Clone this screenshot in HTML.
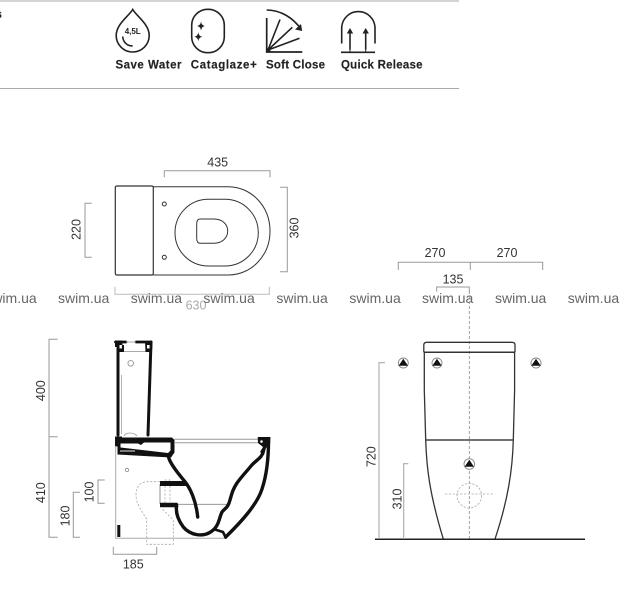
<!DOCTYPE html>
<html><head><meta charset="utf-8">
<style>
html,body{margin:0;padding:0;background:#fff;width:629px;height:600px;overflow:hidden}
svg{display:block;filter:blur(.3px)}
text{font-family:"Liberation Sans",sans-serif}
.d{font-size:12.5px;fill:#333;text-anchor:middle}
.w{font-size:14px;fill:#666}
.l{font-size:11.5px;font-weight:bold;fill:#222;stroke:#222;stroke-width:.15}
.g{fill:none;stroke:#999;stroke-width:1}
.k{fill:none;stroke:#111;stroke-linejoin:round;stroke-linecap:round}
.i{fill:none;stroke:#222;stroke-width:1.6}
.da{fill:none;stroke:#aaa;stroke-width:.8;stroke-dasharray:2.2 1.6}
</style></head><body>
<svg width="629" height="600" viewBox="0 0 629 600" xmlns="http://www.w3.org/2000/svg">
<!-- header -->
<path d="M0 1H459M0 88.5H459" fill="none" stroke="#aaa" stroke-width="1.1"/>
<text x="-4.5" y="18" class="l">s</text>
<!-- drop -->
<path class="i" d="M132.7 9.5C129 16 116.2 24 116.2 35.5A16.5 16.5 0 0 0 149.2 35.5C149.2 24 136.4 16 132.7 9.5Z"/>
<path class="i" d="M122.7 36.5C123 42 127 46 132.7 46"/>
<text x="132.7" y="34" font-size="8" font-weight="bold" text-anchor="middle" fill="#222">4,5L</text>
<!-- cataglaze -->
<rect class="i" x="191.7" y="9.3" width="32.6" height="43.4" rx="16" ry="16"/>
<path d="M201 21.5Q201.5 25.5 205 26Q201.5 26.5 201 30.5Q200.5 26.5 197 26Q200.5 25.5 201 21.5ZM198.3 32.2Q198.8 36.2 202.3 36.7Q198.8 37.2 198.3 41.2Q197.8 37.2 194.3 36.7Q197.8 36.2 198.3 32.2Z" fill="#222"/>
<!-- soft close -->
<path d="M266.7 18V52H302.3" fill="none" stroke="#222" stroke-width="1.7"/>
<path d="M266.7 10C281 10 293 18 301 29" class="i"/>
<path d="M302.2 31L295 29.5L301 24Z" fill="#222"/>
<path d="M268 50L280 19.5M268 50L292.3 27.3M268 50L299.5 38.3" class="i"/>
<path d="M266.5 47L272 52H266.5Z" fill="#222"/>
<!-- quick release -->
<path class="i" d="M341.7 43.5V27A16.7 16.7 0 0 1 375 27V43.5"/>
<path d="M341 52.3H375" stroke="#222" stroke-width="1.6"/>
<path d="M350 49.5V31M365.7 49.5V31" stroke="#222" stroke-width="1.6"/>
<path d="M350 28L346.8 33.5H353.2ZM365.7 28L362.5 33.5H368.9Z" fill="#222"/>
<path d="M350 49.5V52M365.7 49.5V52" stroke="#222" stroke-width="1"/>
<text x="115.5" y="68.5" class="l" textLength="66">Save Water</text>
<text x="190.8" y="68.5" class="l" textLength="66">Cataglaze+</text>
<text x="266" y="68.5" class="l" textLength="59">Soft Close</text>
<text x="341" y="68.5" class="l" textLength="81.5">Quick Release</text>

<!-- top view -->
<g fill="none" stroke="#333" stroke-width="1">
<path d="M153.3 186.7H228.3C251 186.7 270 206 270 231C270 256 251 275 228.3 275H153.3"/>
<rect x="115.3" y="186" width="38" height="89" rx="1.5" stroke-width="1.2"/>
<rect x="175" y="199.3" width="83.3" height="66.7" rx="33.3" ry="33.3"/>
<path d="M200 219H214C222 219 227.7 224 227.7 231C227.7 238 222 243.3 214 243.3H200C197.5 243.3 196.7 241 196.7 238V224C196.7 221 197.5 219 200 219Z"/>
<circle cx="164.3" cy="204" r="2"/><circle cx="164.3" cy="257.3" r="2"/>
</g>
<path class="g" d="M164.3 177.3V170.7H270V177.3"/>
<path class="g" d="M280 187.3H287.3V271.7H280"/>
<path class="g" d="M91.7 203.3H85V257.3H91.7"/>
<path d="M115 286.7V294.3H269.3V286.7" fill="none" stroke="#bbb" stroke-width="1"/>
<text x="217.7" y="166.5" class="d">435</text>
<text class="d" transform="translate(298.5 228) rotate(-90)">360</text>
<text class="d" transform="translate(80.5 229.5) rotate(-90)">220</text>
<text x="196" y="309.5" class="d" style="fill:#aaa">630</text>
<!-- watermark -->
<text x="-14.7" y="303" class="w">swim.ua</text>
<text x="58" y="303" class="w">swim.ua</text>
<text x="130.7" y="303" class="w">swim.ua</text>
<text x="203.4" y="303" class="w">swim.ua</text>
<text x="276.4" y="303" class="w">swim.ua</text>
<text x="349.4" y="303" class="w">swim.ua</text>
<text x="422" y="303" class="w">swim.ua</text>
<text x="495" y="303" class="w">swim.ua</text>
<text x="567.8" y="303" class="w">swim.ua</text>

<!-- section -->
<path class="g" d="M57.7 339.3H49V537.3H57.7M49 436.7H57.7"/>
<path class="g" d="M80 492.3H73.3V537.3H80"/>
<path class="g" d="M104.7 480H98V503.3H104.7"/>
<path class="g" d="M113.3 546.7V554.3H156.7V546.7"/>
<text class="d" transform="translate(45 390.7) rotate(-90)">400</text>
<text class="d" transform="translate(45 492.7) rotate(-90)">410</text>
<text class="d" transform="translate(69.5 516) rotate(-90)">180</text>
<text class="d" transform="translate(93.5 492) rotate(-90)">100</text>
<text x="133.3" y="568.7" class="d">185</text>
<!-- dashed (behind the pipe stubs) -->
<path class="da" d="M160 481.7H147C139 482 136 488 136 495C136 503 141 510 146.7 519V544.3H173.3V520L161.7 508.3M165 507V480H170V502"/>
<!-- tank -->
<path class="k" stroke-width="3" d="M118 348V435M151 342L148 435"/>
<path class="k" stroke-width="2.8" d="M115.5 342H126M136 342H151"/>
<path d="M115 340.5H122L122.5 345H124V352H118.5L117.5 347H115ZM145 341H152.5L152 352H145.5Z" fill="#111"/>
<rect x="147" y="345" width="2.6" height="3.5" fill="#fff"/>
<rect x="119.5" y="345" width="2.4" height="3.5" fill="#fff"/>
<path d="M126 342H136M124 351.5H145.5M121.5 375V434" fill="none" stroke="#aaa" stroke-width=".9"/>
<circle cx="130.7" cy="363.3" r="2.8" fill="none" stroke="#888" stroke-width=".8"/>
<path d="M124 436C126 432 134 432 137 436" fill="none" stroke="#999" stroke-width=".8"/>
<!-- base -->
<path d="M115 436.5H122V437.5H172L174.5 440V452.5L171 457.5L117.5 454.5V446.5H115Z" fill="#111"/>
<path d="M120.5 443.5H138L141 445L144 442.5H170.5V450.5L168 453L120.5 447.5Z" fill="#fff"/>
<path d="M120 451H135" stroke="#fff" stroke-width=".9"/>
<!-- gray lines -->
<path d="M174 439.3H260M174 442.8H260" stroke="#999" stroke-width="1" fill="none"/>
<path d="M115.7 446V538.3H225.7" stroke="#aaa" stroke-width="1" fill="none"/>
<path d="M160 484V504M176 504.3H226.7" stroke="#888" stroke-width=".9" fill="none"/>
<!-- trapway -->
<path class="k" stroke-width="3.4" d="M168.5 457C170 463 176 471 185 481.7C190 488 196 500 197.7 517"/>
<path d="M160 481H183L187 484.5L187.5 486H160ZM160 502.7H177.5L178.5 507.3H160Z" fill="#111"/>
<!-- bowl -->
<path class="k" stroke-width="3.4" d="M176.5 505C175.5 513 178 520 183.3 527C190 535 203 538 212 531C219 526 219 518 222 512C225 508 228 508 230 500C232 493 233 489 237 483C242 476 247 471 251 466C256 460 262 458 263 452"/>
<path class="k" stroke-width="3.4" d="M268.5 441C268.5 458 267 474 262 489C257 505 240 523 225.7 537"/>
<path class="k" stroke-width="2.6" d="M215 529.5L223 532L225.7 537.5"/>
<path d="M257.7 437H270.5L270 445L266 448L264 455L260 452L263 447L258 443Z" fill="#111"/>
<circle cx="261.5" cy="441.5" r="1.3" fill="#fff"/>
<rect x="117.3" y="525" width="3" height="12" fill="#111"/>
<circle cx="127" cy="470" r="1.7" fill="none" stroke="#888" stroke-width=".8"/>

<!-- front view -->
<path class="g" d="M398.3 270V262.3H542.7V270M470.3 262.3V270"/>
<path class="g" d="M436.7 291.7V287H469.3V291.7"/>
<text x="435" y="257" class="d">270</text>
<text x="507" y="257" class="d">270</text>
<text x="453" y="283.7" class="d">135</text>
<path d="M469.3 291V539" fill="none" stroke="#888" stroke-width=".8" stroke-dasharray="3 2"/>
<g fill="none" stroke="#333" stroke-width="1.3">
<path d="M423.8 352.3V345C423.8 343 425 342.3 427 342.3H512C514 342.3 515 343 515 345V352.3"/>
<path d="M423.8 352.3H515" stroke-width="1.5"/>
<path d="M424.3 352.3V390L425.7 440C426.5 466 429 492 443.3 539"/>
<path d="M514.6 352.3V390L513.3 440C512.5 470 508 500 495 539"/>
<path d="M425.7 440H513.3" stroke="#444" stroke-width="1.6"/>
<path d="M375 539.2H585" stroke="#222" stroke-width="1.5"/>
</g>
<path d="M385 362.7H379V539M408.3 463.7H403.7V539" fill="none" stroke="#aaa" stroke-width="1.1"/>
<text class="d" transform="translate(375.5 456.7) rotate(-90)">720</text>
<text class="d" transform="translate(401.5 499) rotate(-90)">310</text>
<circle cx="469.3" cy="495.7" r="12.3" class="da"/>
<path d="M445 494H494" class="da"/>
<g fill="#fff" stroke="#888" stroke-width=".9">
<circle cx="403.3" cy="363" r="5"/><circle cx="437" cy="363" r="5"/><circle cx="536" cy="363" r="5"/><circle cx="469.3" cy="464" r="5.3"/>
</g>
<path d="M403.3 358.8L408 365.8H398.6ZM437 358.8L441.7 365.8H432.3ZM536 358.8L540.7 365.8H531.3ZM469.3 459.8L474 466.8H464.6Z" fill="#111"/>
</svg>
</body></html>
